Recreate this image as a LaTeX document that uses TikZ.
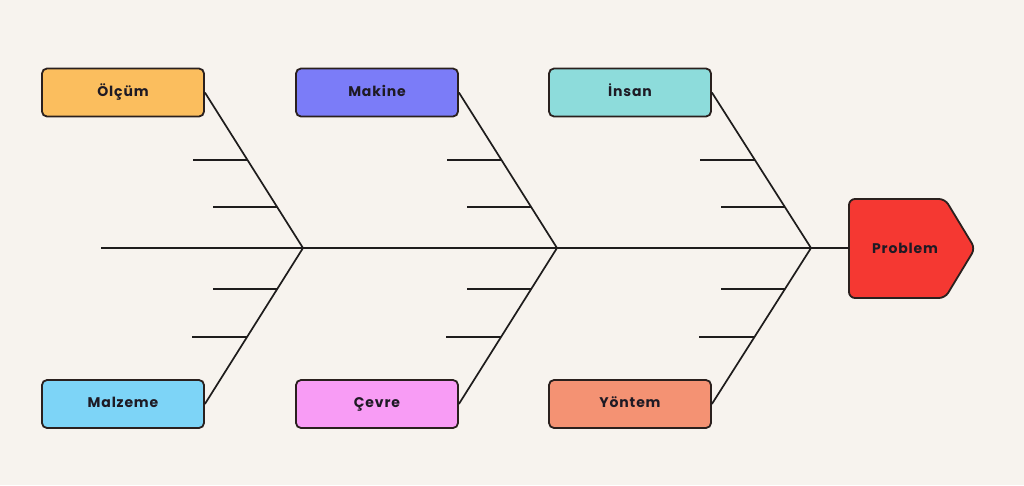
\documentclass[tikz,border=0pt]{standalone}
\usepackage{fontspec}
\setmainfont{Poppins}[LetterSpace=6]
\usepackage{tikz}
\definecolor{fishbg}{RGB}{247,243,238}
\definecolor{fishline}{RGB}{30,28,28}
\definecolor{fishedge}{RGB}{42,32,30}
\definecolor{fishtext}{RGB}{30,26,36}
\definecolor{olcumcol}{RGB}{251,190,94}
\definecolor{makinecol}{RGB}{123,124,248}
\definecolor{insancol}{RGB}{141,220,219}
\definecolor{malzemecol}{RGB}{125,212,247}
\definecolor{cevrecol}{RGB}{248,156,245}
\definecolor{yontemcol}{RGB}{244,146,115}
\definecolor{problemcol}{RGB}{245,56,50}

\begin{document}
\begin{tikzpicture}[x=1pt,y=-1pt,
    cause/.style={draw=fishedge,line width=1.8pt,rounded corners=5pt,
      minimum width=162pt,minimum height=48pt,inner sep=0pt,
      text height=10pt,text depth=3pt,
      text=fishtext,font=\bfseries\fontsize{14}{16}\selectfont},
    bone/.style={fishline,line width=1.7pt}]
    % Background and frame
    \fill[fishbg] (0,0) rectangle (1024,485);
    \useasboundingbox (0,0) rectangle (1024,485);
    % Junctions on the spine
    \coordinate (tail) at (101,248);
    \coordinate (j1) at (303,248);
    \coordinate (j2) at (557,248);
    \coordinate (j3) at (811,248);
    \coordinate (probedge) at (849,248);
    % Cause boxes (top row)
    \node[cause,fill=olcumcol] (olcum) at (123,92.5) {Ölçüm};
    \node[cause,fill=makinecol] (makine) at (377,92.5) {Makine};
    \node[cause,fill=insancol] (insan) at (630,92.5) {İnsan};
    % Cause boxes (bottom row)
    \node[cause,fill=malzemecol] (malzeme) at (123,404) {Malzeme};
    \node[cause,fill=cevrecol] (cevre) at (377,404) {Çevre};
    \node[cause,fill=yontemcol] (yontem) at (630,404) {Yöntem};
    % Problem head
    \draw[fishedge,fill=problemcol,line width=1.8pt,rounded corners=6pt]
      (849,199) -- (945,199) -- (975,248.5) -- (945,298) -- (849,298) -- cycle;
    \node[text=fishtext,font=\bfseries\fontsize{14}{16}\selectfont] (prob) at (905,248) {Problem};
    % Spine
    \draw[bone] (tail) -- (probedge);
    % Diagonals with sub-bone points
    \draw[bone] (olcum.east) -- coordinate[pos=0.436] (o1) coordinate[pos=0.737] (o2) (j1);
    \draw[bone] (makine.east) -- coordinate[pos=0.436] (m1) coordinate[pos=0.737] (m2) (j2);
    \draw[bone] (insan.east) -- coordinate[pos=0.436] (i1) coordinate[pos=0.737] (i2) (j3);
    \draw[bone] (malzeme.east) -- coordinate[pos=0.429] (z2) coordinate[pos=0.737] (z1) (j1);
    \draw[bone] (cevre.east) -- coordinate[pos=0.429] (c2) coordinate[pos=0.737] (c1) (j2);
    \draw[bone] (yontem.east) -- coordinate[pos=0.429] (y2) coordinate[pos=0.737] (y1) (j3);
    % Sub-bones
    \draw[bone] (o1) -- ++(-55,0) (o2) -- ++(-64,0);
    \draw[bone] (m1) -- ++(-55,0) (m2) -- ++(-64,0);
    \draw[bone] (i1) -- ++(-55,0) (i2) -- ++(-64,0);
    \draw[bone] (z1) -- ++(-64,0) (z2) -- ++(-55,0);
    \draw[bone] (c1) -- ++(-64,0) (c2) -- ++(-55,0);
    \draw[bone] (y1) -- ++(-64,0) (y2) -- ++(-55,0);
  \end{tikzpicture}
\end{document}
